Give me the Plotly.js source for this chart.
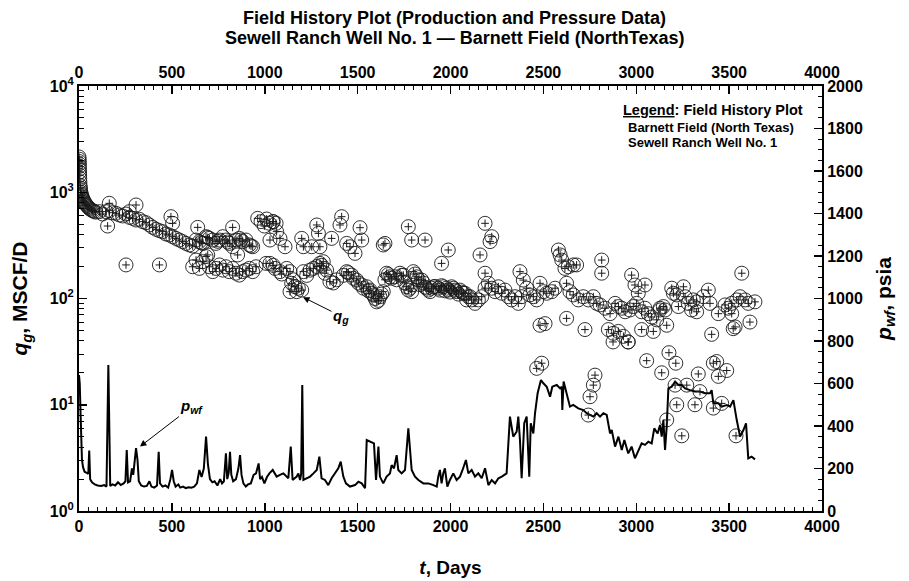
<!DOCTYPE html>
<html>
<head>
<meta charset="utf-8">
<script src="https://cdn.plot.ly/plotly-3.0.1.min.js"></script>
<style>
  html, body { margin: 0; padding: 0; background: #ffffff; }
  #chart { width: 909px; height: 581px; }
</style>
</head>
<body>
<div id="chart"></div>
<script>
// Gas rate history, q_g (MSCF/D) versus time (days)
const rateDays = [
  0, 0.5, 1, 1.5, 2, 2.5, 3, 3.5, 4, 5, 6, 7, 8, 10, 12, 14, 17, 20, 24, 28, 32, 37, 42, 48, 54, 60, 67, 74, 82, 90,
  110, 127, 145, 163, 181, 199, 217, 235, 253, 271, 289, 307, 325, 343, 361, 379, 397, 415, 433, 450, 468, 486, 504,
  522, 540, 558, 576, 594, 612,
  630, 648, 666, 684, 702, 720, 738, 756, 774, 791, 809, 827, 845, 863, 881, 899, 917, 935, 962, 980, 998, 1025, 1043, 1061,
  657, 693, 747, 800, 872, 926,
  612, 630, 648, 666, 684, 702, 720, 738, 756, 774, 791, 809, 827, 845, 863, 881, 899, 917, 935, 953, 1007,
  163, 307, 154, 253, 433, 495, 504, 639, 827, 854, 693, 271,
  1010, 1028, 1046, 1064, 1082, 1109, 1199, 1208, 1253, 1297, 1280, 1289, 1360, 1414, 1405, 1459, 1441, 1486, 1513, 1522,
  1647, 1638, 1773, 1791, 1863, 1988, 1952,
  1028, 1055, 1082, 1118, 1136, 1145, 1163, 1136, 1172, 1199, 1208, 1244, 1262, 1297, 1315, 1324, 1351, 1441, 1468, 1495,
  1522, 1549, 1567, 1585, 1603, 1620, 1638, 1656, 1674, 1701, 1728, 1746, 1764, 1791, 1800, 1818, 1845, 1872, 1890, 1908,
  1934, 1961, 1988, 2006, 2033, 2051, 2069, 2087, 2105,
  1046, 1091, 1154, 1181, 1226, 1280, 1306, 1333, 1369, 1387, 1423, 1450, 1477, 1504, 1531, 1558, 1576, 1594, 1612, 1629,
  1647, 1665, 1683, 1710, 1737, 1755, 1773, 1782, 1809, 1827, 1836, 1854, 1863, 1881, 1899, 1917, 1943, 1952, 1970, 1979,
  1997, 2015, 2024, 2042, 2060,
  2078, 2096, 2114, 2132, 2150, 2168, 2186, 2204, 2222, 2240, 2258, 2276, 2293, 2311, 2329, 2347, 2365, 2383, 2392, 2374,
  2410, 2428, 2446, 2464, 2482, 2500, 2518, 2545, 2563, 2581, 2590, 2599, 2616, 2634, 2661, 2679, 2625, 2643, 2661, 2688,
  2715, 2742, 2769, 2787, 2805, 2832, 2859, 2886, 2904, 2922, 2940, 2966, 2984, 3002, 3029, 3047, 3065, 3083, 3110, 3128, 3146,
  2186, 2222, 2213, 2159, 2186, 2814, 2814, 2975, 2993, 3047, 3011,
  2482, 2509, 2625, 2724, 2850, 2877, 2904, 2931, 2957, 3056, 3137, 3029, 3092,
  2464, 2491, 2742, 2751, 2769, 2778, 3176, 3213, 3334, 3415, 3433, 3487, 3442, 3209, 3272, 3343, 3218, 3316, 3415, 3460,
  3164, 3245, 3537, 2875, 2956, 3406, 3522,
  3128, 3155, 3164, 3191, 3200, 3218, 3227, 3254, 3263, 3280, 3298, 3307, 3325, 3325, 3361, 3388, 3397, 3442, 3478, 3496,
  3514, 3514, 3532, 3541, 3559, 3586, 3603, 3612, 3639, 3568
];
const rateValues = [
  2150, 2050, 1950, 1850, 1750, 1650, 1550, 1450, 1350, 1250, 1150, 1100, 1050, 1000, 960, 930, 900, 870, 840, 815, 790, 770, 750, 730, 710, 695, 680, 670, 660, 650,
  657, 624, 657, 671, 642, 634, 611, 598, 624, 581, 568, 548, 556, 529, 517, 492, 467, 448, 435, 426, 405, 396, 382,
  368, 355, 343, 330, 319, 312,
  355, 343, 330, 382, 368, 355, 330, 355, 382, 355, 330, 307, 355, 368, 343, 355, 319, 307, 568, 529, 481, 510, 529, 510,
  335, 375, 345, 340, 355, 312,
  199, 230, 192, 222, 248, 199, 179, 192, 207, 185, 199, 179, 192, 173, 166, 179, 185, 192, 179, 199, 214,
  787, 759, 481, 207, 207, 589, 510, 467, 467, 257, 257, 657,
  560, 355, 529, 426, 368, 307, 368, 307, 307, 307, 492, 410, 368, 589, 492, 307, 330, 266, 464, 355,
  330, 319, 474, 355, 355, 286, 214,
  214, 192, 179, 192, 179, 139, 129, 116, 116, 120, 179, 185, 192, 214, 222, 173, 144, 179, 166, 149,
  134, 129, 120, 108, 93, 104, 116, 173, 160, 160, 173, 166, 129, 116, 179, 160, 149, 125, 116, 129,
  125, 129, 120, 129, 116, 120, 112, 97, 104,
  205, 170, 150, 125, 165, 200, 205, 185, 140, 150, 165, 175, 155, 140, 125, 118, 112, 100, 96, 110,
  150, 168, 155, 150, 165, 140, 120, 125, 170, 150, 135, 140, 128, 120, 125, 130, 120, 132, 118, 125,
  115, 125, 120, 110, 115,
  112, 104, 97, 90, 97, 104, 125, 139, 125, 116, 129, 112, 120, 104, 97, 104, 90, 104, 149, 179,
  125, 108, 104, 97, 139, 116, 112, 116, 125, 286, 257, 230, 192, 199, 207, 207, 139, 116, 108, 97,
  104, 97, 104, 90, 87, 81, 72, 90, 84, 81, 75, 78, 84, 90, 75, 81, 72, 67, 63, 78, 84,
  510, 382, 343, 257, 173, 230, 173, 166, 134, 134, 112,
  56, 58, 65, 51, 51, 47, 49, 44, 39, 26, 20, 51, 49,
  22, 24.6, 8.0, 11.9, 15.3, 19, 30.9, 24.6, 19.5, 24.6, 25.5, 21, 18.5, 15.3, 15.3, 13.3, 10, 10, 9.3, 10.3,
  7.2, 5.1, 5.1, 39, 39, 46, 52,
  81, 78, 56, 125, 112, 108, 84, 129, 104, 90, 78, 97, 93, 75, 104, 120, 90, 72, 87, 81,
  72, 90, 54, 97, 104, 97, 90, 60, 93, 173
];

// Flowing bottomhole pressure, p_wf (psia) versus time (days)
const pressureDays = [
  0, 4, 8, 12, 16, 22, 30, 41, 50, 55, 60, 70, 85, 100, 120, 135, 148, 158, 168, 180, 195, 210, 225, 240, 250, 257, 264,
  275, 285, 292, 300, 307, 315, 322, 335, 350, 365, 379, 390, 405, 420, 429, 436, 450, 465, 480, 492, 501, 510, 520, 535,
  545, 560, 575, 590, 605, 620, 635, 648, 660, 672, 684, 694, 705, 718, 730, 745, 760, 770, 780, 791, 798, 806, 813, 820,
  830, 845, 858, 867, 875, 885, 898, 910, 925, 940, 953, 967, 975, 985, 998, 1012, 1025, 1043, 1064, 1082, 1100, 1127,
  1140, 1150, 1172, 1181, 1190, 1196, 1202, 1208, 1226, 1244, 1262, 1280, 1294, 1306, 1324, 1342, 1360, 1378, 1396, 1409,
  1423, 1437, 1459, 1486, 1504, 1522, 1540, 1549, 1567, 1588, 1599, 1612, 1620, 1638, 1656, 1674, 1683, 1696, 1710, 1719,
  1737, 1755, 1773, 1791, 1809, 1827, 1854, 1881, 1908, 1926, 1934, 1943, 1952, 1961, 1970, 1983, 1997, 2015, 2033, 2051,
  2065, 2083, 2096, 2114, 2132, 2150, 2168, 2186, 2204, 2222, 2240, 2258, 2276, 2302, 2320, 2338, 2356, 2365, 2374, 2383,
  2397, 2410, 2424, 2432, 2446, 2455, 2469, 2487, 2500, 2518, 2536, 2548, 2572, 2590, 2599, 2602, 2609, 2625, 2643, 2661,
  2688, 2715, 2733, 2751, 2769, 2787, 2805, 2823, 2841, 2859, 2868, 2886, 2904, 2922, 2936, 2957, 2975, 2993, 3011, 3029,
  3047, 3065, 3083, 3097, 3115, 3128, 3137, 3146, 3155, 3164, 3173, 3191, 3209, 3227, 3245, 3263, 3289, 3316, 3343, 3370,
  3397, 3406, 3415, 3442, 3460, 3487, 3505, 3523, 3541, 3559, 3577, 3591, 3603, 3621, 3639
];
const pressureValues = [
  640, 600, 470, 330, 240, 205, 185, 180, 175, 285, 150, 135, 125, 120, 118, 122, 115, 687, 118, 125, 120, 135, 122, 130, 140, 287, 135,
  140, 200, 170, 250, 296, 240, 140, 120, 115, 118, 140, 115, 110, 120, 279, 130, 115, 120, 110, 150, 193, 140, 115, 125,
  110, 115, 108, 112, 110, 115, 130, 193, 160, 200, 350, 220, 150, 135, 140, 120, 150, 130, 140, 271, 150, 180, 279, 170,
  140, 150, 200, 263, 170, 130, 115, 125, 130, 170, 177, 224, 150, 160, 130, 160, 177, 193, 162, 170, 177, 154,
  303, 146, 162, 177, 146, 175, 593, 146, 154, 162, 177, 193, 256, 154, 146, 122, 154, 177, 201, 232,
  162, 130, 115, 122, 138, 130, 107, 334, 326, 318, 146, 303, 162, 130, 162, 177, 216, 201, 263, 193,
  177, 193, 389, 193, 162, 146, 130, 130, 122, 115, 162, 193, 130, 177, 201, 115, 146, 177, 146, 162,
  193, 240, 177, 193, 162, 177, 154, 201, 122, 146, 130, 154, 162, 177, 444, 350, 373, 444, 334, 154,
  413, 444, 161, 413, 365, 460, 554, 616, 601, 585, 538, 585, 593, 577, 585, 475, 609, 554, 491, 499,
  483, 475, 460, 452, 444, 460, 444, 460, 452, 365, 381, 303, 350, 287, 334, 271, 303, 248, 287, 318,
  311, 326, 318, 389, 365, 405, 350, 428, 287, 397, 577, 585, 609, 593, 593, 577, 569, 562, 562, 554,
  554, 569, 507, 507, 491, 499, 491, 522, 428, 350, 381, 413, 248, 256, 243
];

// Axis tick labels
const dayTicks = [0, 500, 1000, 1500, 2000, 2500, 3000, 3500, 4000];
const rateTickVals = [1, 10, 100, 1000, 10000];
const rateTickText = ['10<sup>0</sup>', '10<sup>1</sup>', '10<sup>2</sup>', '10<sup>3</sup>', '10<sup>4</sup>'];
const pressureTicks = [0, 200, 400, 600, 800, 1000, 1200, 1400, 1600, 1800, 2000];

// Text
const titleLines = ['Field History Plot (Production and Pressure Data)',
                    'Sewell Ranch Well No. 1 \u2014 Barnett Field (NorthTexas)'];
const legendLines = ['<u>Legend</u>: Field History Plot',
                     'Barnett Field (North Texas)',
                     'Sewell Ranch Well No. 1'];

const FONT = 'Liberation Sans, Arial, Helvetica, sans-serif';
const INK = '#000000';

// minor ticks for the logarithmic rate axis (2..9 in every decade)
const logMinor = [];
for (let d = 0; d < 4; d++) {
  for (let k = 2; k <= 9; k++) logMinor.push(k * Math.pow(10, d));
}

const traces = [
  {
    type: 'scatter', mode: 'markers', x: rateDays, y: rateValues,
    xaxis: 'x', yaxis: 'y', hoverinfo: 'skip', showlegend: false,
    marker: { symbol: 'circle-open', size: 14, color: '#1a1a1a', line: { width: 0.9, color: '#1a1a1a' } }
  },
  {
    type: 'scatter', mode: 'markers', x: rateDays, y: rateValues,
    xaxis: 'x2', yaxis: 'y', hoverinfo: 'skip', showlegend: false,
    marker: { symbol: 'cross-thin-open', size: 5.5, color: '#1a1a1a', line: { width: 1, color: '#1a1a1a' } }
  },
  {
    type: 'scatter', mode: 'lines', x: pressureDays, y: pressureValues,
    xaxis: 'x', yaxis: 'y2', hoverinfo: 'skip', showlegend: false,
    line: { color: INK, width: 2 }
  }
];

const tickFont = { family: FONT, size: 16, color: INK, weight: 'bold' };
const xTitleFont = { family: FONT, size: 19, color: INK, weight: 'bold' };
const yTitleFont = { family: FONT, size: 21, color: INK, weight: 'bold' };

const dayAxis = {
  range: [0, 4000], tickmode: 'array', tickvals: dayTicks, ticktext: dayTicks.map(String),
  ticks: 'inside', ticklen: 8, tickwidth: 1.5, tickcolor: INK,
  minor: { dtick: 50, tick0: 0, ticks: 'inside', ticklen: 4, tickwidth: 1, tickcolor: INK, showgrid: false },
  showline: true, linewidth: 2, linecolor: INK,
  showgrid: false, zeroline: false, tickfont: tickFont, fixedrange: true
};

const layout = {
  width: 909, height: 581,
  paper_bgcolor: '#ffffff', plot_bgcolor: '#ffffff',
  margin: { l: 79, r: 87, t: 86, b: 70 },
  showlegend: false,
  title: {
    text: titleLines[0],
    font: { family: FONT, size: 18, color: INK, weight: 'bold' },
    x: 0.5, xref: 'container', xanchor: 'center',
    y: 0.969, yref: 'container', yanchor: 'middle'
  },
  xaxis: Object.assign({}, dayAxis, {
    side: 'bottom', anchor: 'y',
    title: { text: '<i>t</i>, Days', font: xTitleFont, standoff: 26 }
  }),
  xaxis2: Object.assign({}, dayAxis, {
    side: 'top', overlaying: 'x', anchor: 'y'
  }),
  yaxis: {
    type: 'log', range: [0, 4], side: 'left',
    tickmode: 'array', tickvals: rateTickVals, ticktext: rateTickText,
    ticks: 'inside', ticklen: 8, tickwidth: 1.5, tickcolor: INK,
    minor: { tickmode: 'array', tickvals: logMinor, ticks: 'inside', ticklen: 5, tickwidth: 1, tickcolor: INK, showgrid: false },
    showline: true, linewidth: 2, linecolor: INK,
    showgrid: false, zeroline: false, tickfont: tickFont, fixedrange: true,
    title: { text: '<i>q</i><sub><i>g</i></sub>, MSCF/D', font: yTitleFont, standoff: 16 }
  },
  yaxis2: {
    overlaying: 'y', side: 'right', anchor: 'x', range: [0, 2000],
    tickmode: 'array', tickvals: pressureTicks, ticktext: pressureTicks.map(String),
    ticks: 'inside', ticklen: 8, tickwidth: 1.5, tickcolor: INK,
    minor: { dtick: 50, tick0: 0, ticks: 'inside', ticklen: 4, tickwidth: 1, tickcolor: INK, showgrid: false },
    showline: true, linewidth: 2, linecolor: INK,
    showgrid: false, zeroline: false, tickfont: tickFont, fixedrange: true,
    title: { text: '<i>p</i><sub><i>wf</i></sub>, psia', font: yTitleFont, standoff: 14 }
  },
  annotations: [
    {
      xref: 'paper', yref: 'paper', x: 0.5054, y: 1.1129, xanchor: 'center', yanchor: 'middle',
      text: titleLines[1], showarrow: false,
      font: { family: FONT, size: 18, color: INK, weight: 'bold' }
    },
    {
      xref: 'paper', yref: 'paper', x: 0.7295, y: 0.9435, xanchor: 'left', yanchor: 'middle',
      text: legendLines[0], showarrow: false,
      font: { family: FONT, size: 14.5, color: INK, weight: 'bold' }
    },
    {
      xref: 'paper', yref: 'paper', x: 0.736, y: 0.9035, xanchor: 'left', yanchor: 'middle',
      text: legendLines[1], showarrow: false,
      font: { family: FONT, size: 13, color: INK, weight: 'bold' }
    },
    {
      xref: 'paper', yref: 'paper', x: 0.736, y: 0.868, xanchor: 'left', yanchor: 'middle',
      text: legendLines[2], showarrow: false,
      font: { family: FONT, size: 13, color: INK, weight: 'bold' }
    },
    {
      xref: 'x', yref: 'y2', x: 328, y: 303,
      text: '<i>p</i><sub><i>wf</i></sub>', showarrow: true,
      ax: 52, ay: -40, arrowhead: 2, arrowsize: 1.3, arrowwidth: 1, arrowcolor: INK,
      font: { family: FONT, size: 15, color: INK, weight: 'bold' }
    },
    {
      xref: 'x', yref: 'y', x: 1206, y: Math.log10(103),
      text: '<i>q</i><sub><i>g</i></sub>', showarrow: true,
      ax: 38, ay: 19, arrowhead: 2, arrowsize: 1.3, arrowwidth: 1, arrowcolor: INK,
      font: { family: FONT, size: 15, color: INK, weight: 'bold' }
    }
  ]
};

Plotly.newPlot('chart', traces, layout, { displayModeBar: false, staticPlot: true });
</script>
</body>
</html>
